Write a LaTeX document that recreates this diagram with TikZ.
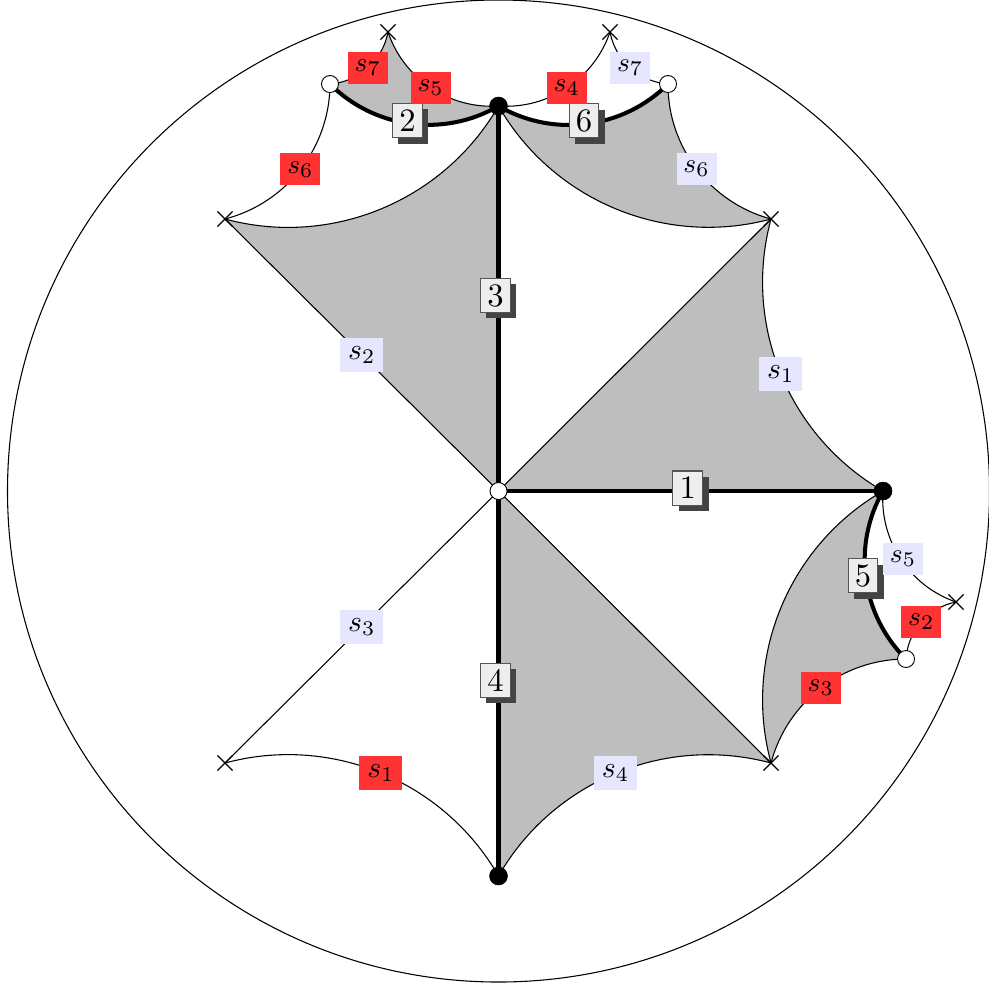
\documentclass[tikz,border=0pt]{standalone}
\usetikzlibrary{shapes.misc,shadows}
\definecolor{labred}{HTML}{FF3333}
\definecolor{lablav}{HTML}{E6E6FF}
\definecolor{greyfill}{HTML}{BEBEBE}
\definecolor{boxfill}{HTML}{EEEEEE}
\definecolor{boxline}{HTML}{555555}
\definecolor{shadowcol}{HTML}{444444}
\pgfdeclarelayer{under}
\pgfsetlayers{under,main}
\tikzset{
  x=0.335pt,y=0.335pt,
  geo/.style={bend left=37.6,looseness=0.95},
  georev/.style={bend right=37.6,looseness=0.95},
  thin edge/.style={draw=black,line width=0.36pt},
  thick edge/.style={draw=black,line width=1.35pt},
  black vertex/.style={circle,fill=black,draw=black,line width=0.2pt,inner sep=0pt,minimum size=6pt},
  white vertex/.style={circle,fill=white,draw=black,line width=0.3pt,inner sep=0pt,minimum size=5.7pt},
  cross vertex/.style={cross out,draw=black,line width=0.45pt,inner sep=0pt,minimum size=4.6pt},
  seclabel/.style={inner sep=0pt,minimum width=14.4pt,minimum height=11.5pt,font=\fontsize{10}{12}\selectfont},
  sublabel/.style={inner sep=0pt,minimum width=13.4pt,minimum height=10.7pt,font=\fontsize{9.5}{11}\selectfont},
  numbox/.style={draw=boxline,line width=0.35pt,fill=boxfill,inner sep=0pt,minimum width=10pt,minimum height=11.4pt,
    font=\fontsize{10.95}{13}\selectfont,xshift=-1pt,yshift=1pt,
    drop shadow={shadow xshift=1.95pt,shadow yshift=-1.95pt,fill=shadowcol,opacity=1}},
}
\begin{document}
\begin{tikzpicture}
\useasboundingbox (0,0) rectangle (989,-985);
% boundary
\node[circle,draw=black,line width=0.36pt,inner sep=0pt,minimum size=982*0.335pt] (disk) at (498.5,-491) {};
% vertices
\node[white vertex] (O) at (498.5,-491) {};
\node[black vertex] (E) at (883,-491) {};
\node[black vertex] (N) at (498.5,-106) {};
\node[black vertex] (S) at (498.5,-876) {};
\node[white vertex] (A) at (330,-84) {};
\node[white vertex] (B) at (668,-84) {};
\node[white vertex] (D) at (906,-659) {};
\node[cross vertex] (NW) at (225,-219) {};
\node[cross vertex] (NE) at (771,-219) {};
\node[cross vertex] (SE) at (771,-763) {};
\node[cross vertex] (SW) at (225,-763) {};
\node[cross vertex] (Xa) at (388,-32) {};
\node[cross vertex] (Xb) at (610,-32) {};
\node[cross vertex] (Xc) at (956,-602) {};
\begin{pgfonlayer}{under}
% shaded regions
\fill[greyfill] (E.center) to[geo] (NE.center) -- (O.center) -- cycle;
\fill[greyfill] (N.center) to[geo] (NW.center) -- (O.center) -- cycle;
\fill[greyfill] (S.center) to[geo] (SE.center) -- (O.center) -- cycle;
\fill[greyfill] (NE.center) to[geo] (B.center) to[geo] (N.center) to[georev] (NE.center) -- cycle;
\fill[greyfill] (N.center) to[geo] (Xa.center) to[geo] (A.center) to[georev] (N.center) -- cycle;
\fill[greyfill] (SE.center) to[geo] (D.center) to[geo] (E.center) to[georev] (SE.center) -- cycle;
% thin edges
\path[thin edge] (NE.center) to[geo] (N.center);
\path[thin edge] (N.center) to[geo] (NW.center);
\path[thin edge] (SE.center) to[geo] (E.center);
\path[thin edge] (O.center) -- (NE.center);
\path[thin edge] (O.center) -- (SE.center);
% thick edges with numbers
\path[thick edge] (O.center) -- node[numbox] (n1) {$1$} (E.center);
\path[thick edge] (N.center) to[geo] node[numbox] (n2) {$2$} (A.center);
\path[thick edge] (O.center) -- node[numbox] (n3) {$3$} (N.center);
\path[thick edge] (O.center) -- node[numbox] (n4) {$4$} (S.center);
\path[thick edge] (D.center) to[geo] node[numbox] (n5) {$5$} (E.center);
\path[thick edge] (B.center) to[geo] node[numbox] (n6) {$6$} (N.center);
% labelled thin edges
\path[thin edge] (E.center) to[geo] node[seclabel,fill=lablav] (l1) {$s_1$} (NE.center);
\path[thin edge] (O.center) -- node[seclabel,fill=lablav] (l2) {$s_2$} (NW.center);
\path[thin edge] (O.center) -- node[seclabel,fill=lablav] (l3) {$s_3$} (SW.center);
\path[thin edge] (S.center) to[geo] node[seclabel,fill=lablav] (l4) {$s_4$} (SE.center);
\path[thin edge] (SW.center) to[geo] node[seclabel,fill=labred] (l5) {$s_1$} (S.center);
\path[thin edge] (SE.center) to[geo] node[sublabel,fill=labred] (l6) {$s_3$} (D.center);
\path[thin edge] (D.center) to[geo] node[sublabel,fill=labred] (l7) {$s_2$} (Xc.center);
\path[thin edge] (Xc.center) to[geo] node[sublabel,fill=lablav,xshift=0.8pt] (l8) {$s_5$} (E.center);
\path[thin edge] (NE.center) to[geo] node[sublabel,fill=lablav] (l9) {$s_6$} (B.center);
\path[thin edge] (B.center) to[geo] node[sublabel,fill=lablav] (l10) {$s_7$} (Xb.center);
\path[thin edge] (Xb.center) to[geo] node[sublabel,fill=labred] (l11) {$s_4$} (N.center);
\path[thin edge] (N.center) to[geo] node[sublabel,fill=labred] (l12) {$s_5$} (Xa.center);
\path[thin edge] (Xa.center) to[geo] node[sublabel,fill=labred] (l13) {$s_7$} (A.center);
\path[thin edge] (A.center) to[geo] node[sublabel,fill=labred] (l14) {$s_6$} (NW.center);
\end{pgfonlayer}
\end{tikzpicture}
\end{document}
